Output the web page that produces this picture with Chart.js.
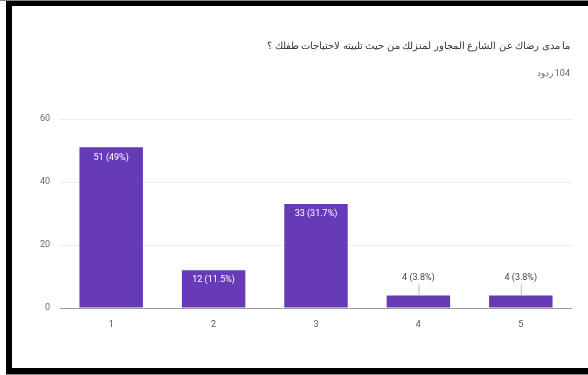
<!DOCTYPE html>
<html>
<head>
<meta charset="utf-8">
<script src="https://cdn.jsdelivr.net/npm/chart.js@4.4.1/dist/chart.umd.min.js"></script>
<style>
  html, body { margin: 0; padding: 0; background: #fff; }
  #frame { position: relative; width: 588px; height: 375px; overflow: hidden; background: #fff; }
  #chart { position: absolute; left: 0; top: 0; }
  .edge { position: absolute; background: #000; }
  .txt { position: absolute; right: 18px; direction: rtl; white-space: nowrap; font-family: Roboto, "Noto Sans", Arial, sans-serif; }
  #title { top: 40px; font-size: 10px; color: #333; }
  #count { top: 68px; font-size: 9px; color: #666; }
</style>
</head>
<body>
<div id="frame">
  <canvas id="chart" width="588" height="375"></canvas>
  <div id="title" class="txt">ما مدى رضاك عن الشارع المجاور لمنزلك من حيث تلبيته لاحتياجات طفلك ؟</div>
  <div id="count" class="txt"></div>
  <div class="edge" style="left:0;top:0;width:588px;height:1px;background:#888"></div>
  <div class="edge" style="left:6px;top:1px;width:582px;height:5px"></div>
  <div class="edge" style="left:6px;top:1px;width:6px;height:373px"></div>
  <div class="edge" style="left:6px;top:368px;width:582px;height:6px"></div>
  <div class="edge" style="left:6px;top:374px;width:582px;height:1px;background:#888"></div>
</div>
<script>
// Survey answers on a 1–5 scale
const categories = ['1', '2', '3', '4', '5'];
const counts = [51, 12, 33, 4, 4];
const yTicks = [0, 20, 40, 60];

const total = counts.reduce((a, b) => a + b, 0);
document.getElementById('count').textContent = total + ' ردود';

function pctLabel(v) {
  let p = (v / total * 100).toFixed(1);
  if (p.endsWith('.0')) p = p.slice(0, -2);
  return v + ' (' + p + '%)';
}

// Value annotations: inside the bar when there is room, otherwise above it with a stem
const barLabels = {
  id: 'barLabels',
  afterDatasetsDraw(chart) {
    const ctx = chart.ctx;
    const meta = chart.getDatasetMeta(0);
    ctx.save();
    ctx.font = '9px Roboto, Arial, sans-serif';
    ctx.textAlign = 'center';
    ctx.textBaseline = 'middle';
    meta.data.forEach((bar, i) => {
      const v = counts[i];
      const h = bar.base - bar.y;
      const text = pctLabel(v);
      if (h > 24) {
        ctx.fillStyle = '#ffffff';
        ctx.fillText(text, bar.x, bar.y + 10);
      } else {
        ctx.fillStyle = '#444';
        ctx.fillText(text, bar.x, bar.y - 18);
        ctx.strokeStyle = '#bbb';
        ctx.lineWidth = 1;
        ctx.beginPath();
        ctx.moveTo(bar.x + 0.5, bar.y - 11);
        ctx.lineTo(bar.x + 0.5, bar.y);
        ctx.stroke();
      }
    });
    ctx.restore();
  }
};

new Chart(document.getElementById('chart'), {
  type: 'bar',
  data: {
    labels: categories,
    datasets: [{
      data: counts,
      backgroundColor: '#673ab7',
      borderWidth: 0,
      barPercentage: 0.62,
      categoryPercentage: 1.0
    }]
  },
  options: {
    responsive: false,
    animation: false,
    layout: { padding: { left: 0, top: 119, right: 16, bottom: 0 } },
    plugins: { legend: { display: false }, tooltip: { enabled: false }, title: { display: false } },
    scales: {
      x: {
        grid: { display: false, drawTicks: false },
        border: { display: false },
        ticks: { color: '#555', font: { family: 'Roboto, Arial, sans-serif', size: 9 }, padding: 11 },
        afterFit(s) { s.height = 67; }
      },
      y: {
        min: 0,
        max: 60,
        afterBuildTicks(s) { s.ticks = yTicks.map(v => ({ value: v })); },
        grid: {
          drawTicks: false,
          color: c => (c.tick && c.tick.value === 0) ? '#9e9e9e' : '#eeeeee',
          lineWidth: 1
        },
        border: { display: false },
        ticks: { color: '#666', font: { family: 'Roboto, Arial, sans-serif', size: 9 }, padding: 10 },
        afterFit(s) { s.width = 60; }
      }
    }
  },
  plugins: [barLabels]
});
</script>
</body>
</html>
